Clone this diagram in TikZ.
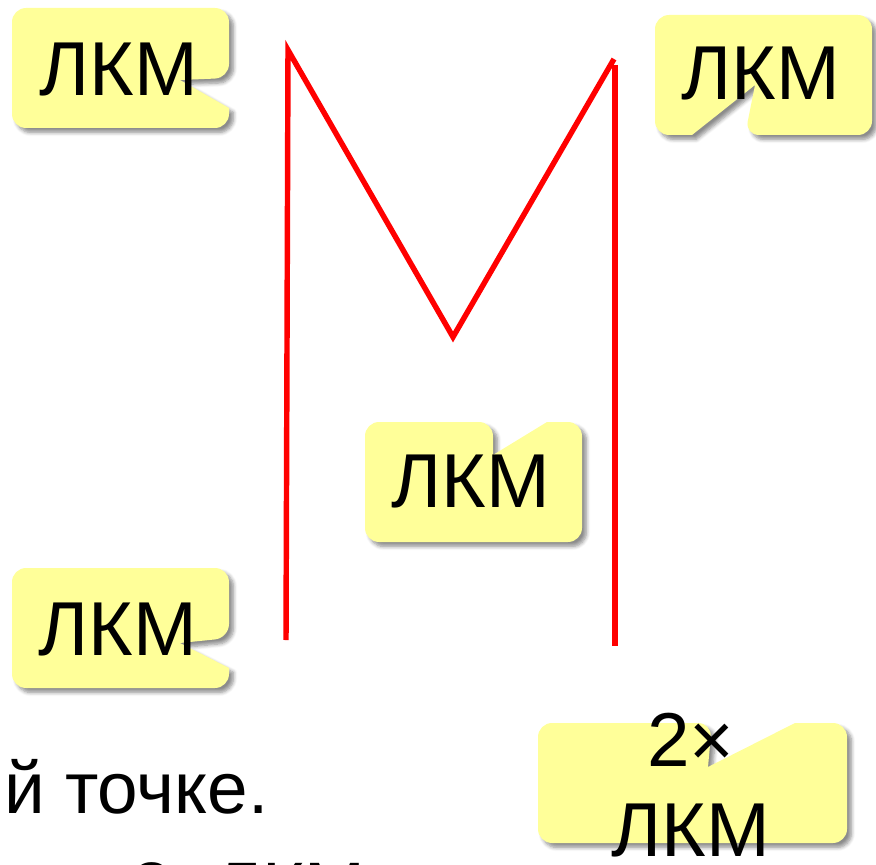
\documentclass[tikz,border=0pt]{standalone}
\usepackage{fontspec}
\setmainfont{Liberation Sans}
\usetikzlibrary{shadows.blur}
\definecolor{lightyellow}{RGB}{255,255,153}
\definecolor{penred}{RGB}{255,0,0}

\begin{document}
\begin{tikzpicture}[
    x=0.02cm, y=-0.02cm,
    bubble/.style={fill=lightyellow, rounded corners=8pt,
        blur shadow={shadow xshift=2.5pt, shadow yshift=-2.5pt, shadow blur steps=6, shadow opacity=45}},
    label/.style={inner sep=0pt, font=\fontsize{43.5}{51}\selectfont, align=center},
    body/.style={inner sep=0pt, font=\fontsize{41.5}{57}\selectfont},
    stroke/.style={draw=penred, line width=3.1pt}
]
    \useasboundingbox (0,0) rectangle (876,865);

    % Bubbles
    \fill[bubble] (12,68) -- (12,8) -- (229,8) -- (229,78) [sharp corners]-- (180,80) -- (229,108) [rounded corners=8pt]-- (229,128) -- (12,128) -- cycle;
    \fill[bubble] (763,15) -- (872,15) -- (872,135) -- (745,135) [sharp corners]-- (755,85) -- (692,135) [rounded corners=8pt]-- (655,135) -- (655,15) -- cycle;
    \fill[bubble] (365,480) -- (365,422) -- (493,422) [sharp corners]-- (493,455) -- (547,422) [rounded corners=8pt]-- (582,422) -- (582,542) -- (365,542) -- cycle;
    \fill[bubble] (12,628) -- (12,568) -- (229,568) -- (229,638) [sharp corners]-- (180,643) -- (229,668) [rounded corners=8pt]-- (229,688) -- (12,688) -- cycle;
    \fill[bubble] (538,783) -- (538,723) -- (712,723) [sharp corners]-- (708,767) -- (795,723) [rounded corners=8pt]-- (847,723) -- (847,843) -- (538,843) -- cycle;

    % Clicks
    \node[label] (clicktl) at (119,70) {ЛКМ};
    \node[label] (clicktr) at (761,74) {ЛКМ};
    \node[label] (clickmid) at (471,482) {ЛКМ};
    \node[label] (clickbl) at (118,630) {ЛКМ};
    \node[label] (clickdbl) at (691,785) {2×\\ЛКМ};

    % Polyline
    \coordinate (lbot) at (286,640);
    \coordinate (ltop) at (288,50);
    \coordinate (vtip) at (453,337);
    \coordinate (rtop) at (614,59);
    \coordinate (rstart) at (615,65);
    \coordinate (rbot) at (615,646);
    \draw[stroke] (lbot) -- (ltop) -- (vtip) -- (rtop);
    \draw[stroke] (rstart) -- (rbot);

    % Text below
    \node[body, anchor=base west] (pointtext) at (4,813) {й точке.};
    \node[body, anchor=base west] (dbltext) at (131,913) {2×ЛКМ};
\end{tikzpicture}
\end{document}
